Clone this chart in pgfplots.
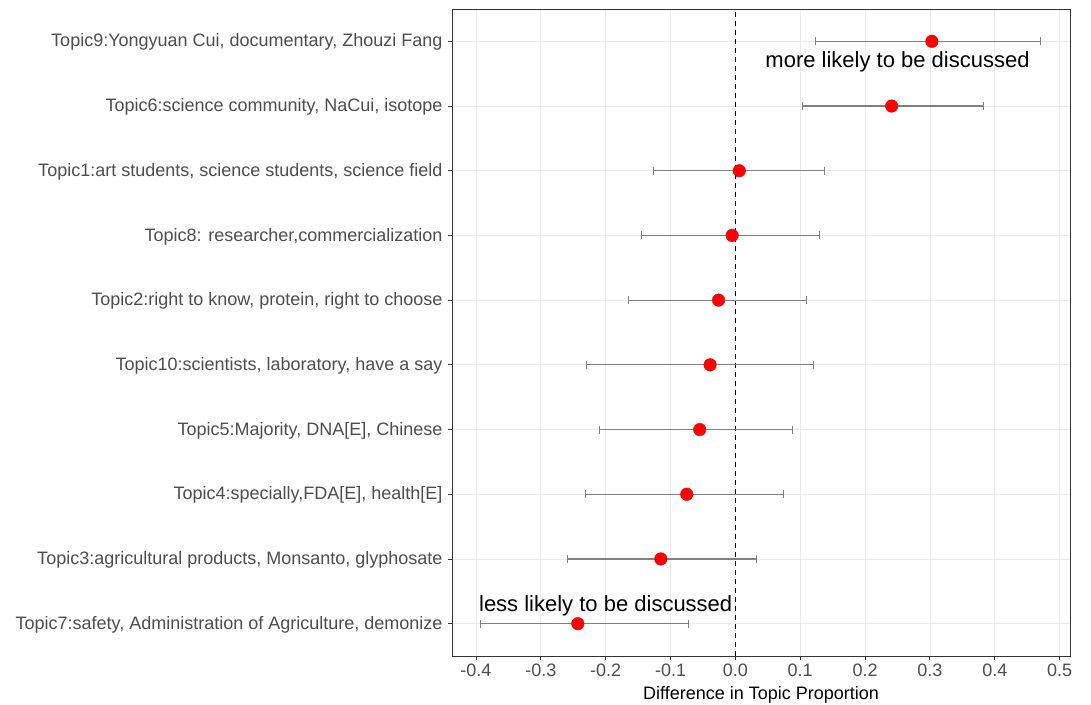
\documentclass[border=0pt]{standalone}
\usepackage{pgfplots}
\usepackage{pgfplotstable}
\pgfplotsset{compat=1.18}
\usepackage{fontspec}
\setmainfont{Liberation Sans}
\definecolor{tickgray}{HTML}{4D4D4D}
\definecolor{gridgray}{HTML}{EBEBEB}
\definecolor{framegray}{HTML}{333333}
\definecolor{errgray}{HTML}{808080}

\pgfplotstableread{
y  x      lo      hi
10  0.303  0.123  0.471
9   0.241  0.103  0.383
8   0.006 -0.126  0.138
7  -0.005 -0.145  0.130
6  -0.026 -0.165  0.110
5  -0.039 -0.229  0.120
4  -0.055 -0.210  0.088
3  -0.075 -0.231  0.074
2  -0.115 -0.259  0.032
1  -0.243 -0.393 -0.072
}\topics

\begin{document}
\begin{tikzpicture}
\begin{axis}[
  at={(452pt,48pt)}, anchor=south west,
  scale only axis, width=618pt, height=647pt,
  xmin=-0.437, xmax=0.516, ymin=0.5, ymax=10.5,
  xtick={-0.4,-0.3,-0.2,-0.1,0,0.1,0.2,0.3,0.4,0.5},
  xticklabels={-0.4,-0.3,-0.2,-0.1,0.0,0.1,0.2,0.3,0.4,0.5},
  ytick={1,2,3,4,5,6,7,8,9,10},
  yticklabels={
    {Topic7:safety, Administration of Agriculture, demonize},
    {Topic3:agricultural products, Monsanto, glyphosate},
    {Topic4:specially,FDA[E], health[E]},
    {Topic5:Majority, DNA[E], Chinese},
    {Topic10:scientists, laboratory, have a say},
    {Topic2:right to know, protein, right to choose},
    {Topic8: researcher,commercialization},
    {Topic1:art students, science students, science field},
    {Topic6:science community, NaCui, isotope},
    {Topic9:Yongyuan Cui, documentary, Zhouzi Fang}},
  grid=major, major grid style={gridgray, line width=0.8pt},
  axis line style={framegray, line width=0.9pt},
  tick style={framegray, line width=0.9pt},
  tick align=outside, major tick length=4pt,
  xtick pos=bottom, ytick pos=left,
  ticklabel style={font=\fontsize{18}{21}\selectfont, text=tickgray},
  yticklabel style={xshift=-2pt, yshift=-1pt},
  xticklabel style={yshift=0pt},
  xlabel={Difference in Topic Proportion},
  xlabel style={font=\fontsize{18}{21}\selectfont, text=black, at={(axis description cs:0.5,0)}, anchor=center, yshift=-39pt},
]
\addplot[black, line width=1.1pt, dash pattern=on 5pt off 4pt] coordinates {(0,0.5) (0,10.5)};
\addplot[only marks, mark=*, mark size=6.3pt, mark options={fill=red, draw=red},
  error bars/.cd, x dir=both, x explicit,
  error bar style={draw=errgray, line width=1.2pt, solid},
  error mark=|,
  error mark options={draw=errgray, mark size=4pt, line width=1.2pt, solid, rotate=0}]
  table[x=x, y=y, x error plus expr=\thisrow{hi}-\thisrow{x}, x error minus expr=\thisrow{x}-\thisrow{lo}] {\topics};
\node[font=\fontsize{22}{26}\selectfont, text=black] at (axis cs:0.25,9.68) {more likely to be discussed};
\node[font=\fontsize{22}{26}\selectfont, text=black] at (axis cs:-0.2,1.28) {less likely to be discussed};
\end{axis}
\pgfresetboundingbox
\path (0,0) rectangle (1091pt,704pt);
\end{tikzpicture}
\end{document}
